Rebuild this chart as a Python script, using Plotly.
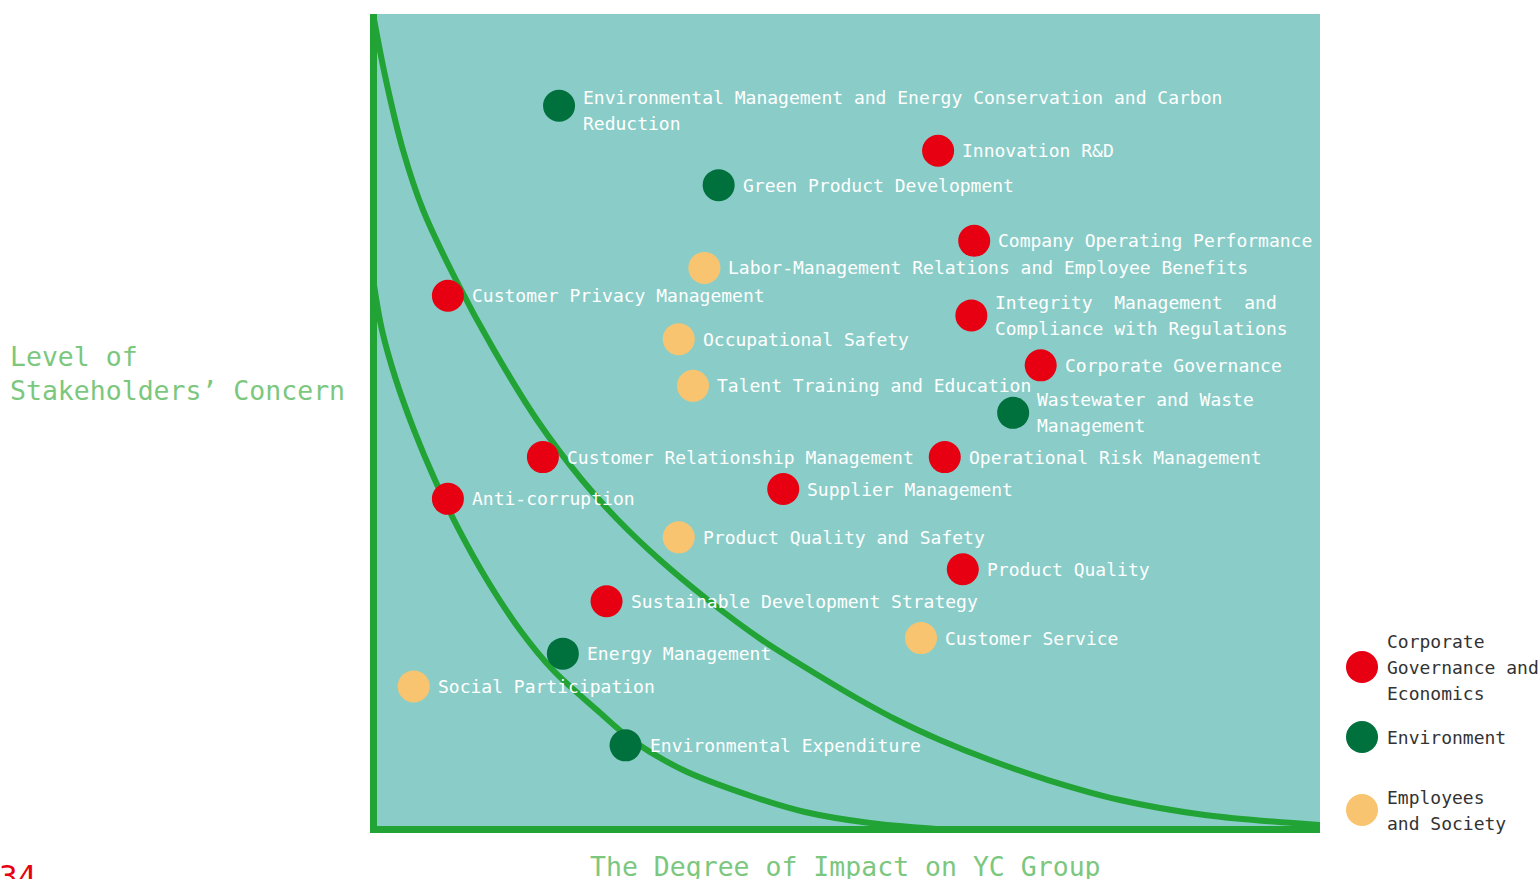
import plotly.graph_objects as go

# ---------------- data ----------------
topics = [
    "Environmental Management and Energy Conservation and Carbon<br>Reduction",
    "Innovation R&D",
    "Green Product Development",
    "Company Operating Performance",
    "Labor-Management Relations and Employee Benefits",
    "Customer Privacy Management",
    "Integrity  Management  and<br>Compliance with Regulations",
    "Occupational Safety",
    "Corporate Governance",
    "Talent Training and Education",
    "Wastewater and Waste<br>Management",
    "Customer Relationship Management",
    "Operational Risk Management",
    "Supplier Management",
    "Anti-corruption",
    "Product Quality and Safety",
    "Product Quality",
    "Sustainable Development Strategy",
    "Customer Service",
    "Energy Management",
    "Social Participation",
    "Environmental Expenditure",
]
impact = [19.9, 59.8, 36.7, 63.6, 35.2, 8.2, 63.3, 32.5, 70.6, 34.0, 67.7,
          18.2, 60.5, 43.5, 8.2, 32.5, 62.4, 24.9, 58.0, 20.3, 4.6, 26.9]
concern = [88.8, 83.3, 79.1, 72.3, 69.0, 65.6, 63.2, 60.3, 57.1, 54.6, 51.3,
           45.9, 45.9, 42.0, 40.8, 36.1, 32.2, 28.3, 23.8, 21.9, 17.9, 10.7]
group = ["env", "gov", "env", "gov", "soc", "gov", "gov", "soc", "gov", "soc", "env",
         "gov", "gov", "gov", "gov", "soc", "gov", "gov", "soc", "env", "soc", "env"]

# boundary curves
outer_x = [0.32, 1.68, 3.47, 5.58, 9.05, 13.05, 17.58, 22.32, 26.11, 30.53, 35.58,
           41.26, 48.00, 51.58, 55.47, 60.00, 65.26, 71.37, 78.95, 87.89, 100.0]
outer_y = [100.0, 91.94, 83.39, 76.07, 67.52, 58.97, 50.43, 43.10, 38.22, 33.33, 28.45,
           23.57, 18.68, 16.24, 13.80, 11.36, 8.91, 6.47, 4.03, 2.20, 0.98]
inner_x = [0.42, 1.26, 2.74, 4.63, 6.84, 9.37, 12.32, 15.79, 19.26, 23.89, 27.58,
           32.95, 39.79, 45.79, 52.63, 61.05]
inner_y = [66.91, 61.42, 55.31, 49.21, 43.10, 37.00, 30.89, 24.79, 19.90, 15.02, 11.36,
           7.69, 4.64, 2.56, 1.22, 0.37]

legend_keys = ["gov", "env", "soc"]
legend_names = ["Corporate<br>Governance and<br>Economics", "Environment", "Employees<br>and Society"]

x_title = "The Degree of Impact on YC Group"
y_title = "Level of<br>Stakeholders’ Concern"
page_no = "34"

# ---------------- style ----------------
W, H = 1540, 879
ML, MR, MT, MB = 0, 0, 14, 46
PX0, PX1 = 370, 1320
plot_h = H - MT - MB
colors = {"gov": "#E60012", "env": "#00703C", "soc": "#F8C470"}
teal = "#8ACDC8"
line_green = "#22A335"
title_green = "#7CC77E"
mono = "DejaVu Sans Mono"
GLYPH = 18      # glyph size of labels
LINE = 20       # font size that drives the line spacing (1.3 * 20 = 26 px)


def py(p):
    return (H - MB - p) / plot_h


def spaced(txt):
    return "<br>".join(f"<span style='font-size:{GLYPH}px'>{s}</span>" for s in txt.split("<br>"))


fig = go.Figure()

# curves
for cx, cy in [(outer_x, outer_y), (inner_x, inner_y)]:
    fig.add_trace(go.Scatter(x=cx, y=cy, mode="lines",
                             line=dict(color=line_green, width=6, shape="spline", smoothing=1.0),
                             hoverinfo="skip", showlegend=False))

# points per group
for key in legend_keys:
    idx = [i for i, g in enumerate(group) if g == key]
    fig.add_trace(go.Scatter(
        x=[impact[i] for i in idx], y=[concern[i] for i in idx], mode="markers",
        marker=dict(size=32, color=colors[key], line=dict(width=0)),
        text=[topics[i] for i in idx], hoverinfo="text", showlegend=False))

annotations = []
for i, t in enumerate(topics):
    multi = "<br>" in t
    annotations.append(dict(
        x=impact[i], y=concern[i], xref="x", yref="y",
        text=spaced(t) if multi else t, showarrow=False,
        xanchor="left", yanchor="middle", align="left", xshift=22,
        yshift=-5 if i == 0 else 0,
        font=dict(family=mono, size=LINE if multi else GLYPH, color="#FFFFFF")))

# manual legend on an auxiliary axis
legend_y = [py(667), py(737), py(810)]
legend_x = [(1362 - 1330) / (W - 1330)] * 3
fig.add_trace(go.Scatter(
    x=legend_x, y=legend_y, xaxis="x2", yaxis="y2", mode="markers",
    marker=dict(size=32, color=[colors[k] for k in legend_keys]),
    hoverinfo="skip", showlegend=False))
for xv, yv, name in zip(legend_x, legend_y, legend_names):
    annotations.append(dict(
        x=xv, y=yv, xref="x2", yref="y2", text=spaced(name), showarrow=False,
        xanchor="left", yanchor="middle", align="left", xshift=23,
        font=dict(family=mono, size=LINE, color="#333333")))

# axis titles and page number
annotations.append(dict(x=8 / W, y=py(373), xref="paper", yref="paper", text=y_title, showarrow=False,
                        xanchor="left", yanchor="middle", align="left",
                        font=dict(family=mono, size=26.5, color=title_green)))
annotations.append(dict(x=845 / W, y=py(866), xref="paper", yref="paper", text=x_title, showarrow=False,
                        xanchor="center", yanchor="middle",
                        font=dict(family=mono, size=26.5, color=title_green)))
annotations.append(dict(x=-3 / W, y=py(856), xref="paper", yref="paper", text=page_no, showarrow=False,
                        xanchor="left", yanchor="top",
                        font=dict(family=mono, size=31, color="#E60012")))

shapes = [
    dict(type="rect", xref="x domain", yref="y domain", x0=0, x1=1, y0=0, y1=1,
         fillcolor=teal, line=dict(width=0), layer="below"),
    dict(type="rect", xref="x domain", yref="y domain", x0=0, x1=7 / (PX1 - PX0), y0=0, y1=1,
         fillcolor=line_green, line=dict(width=0), layer="below"),
    dict(type="rect", xref="x domain", yref="y domain", x0=0, x1=1, y0=0, y1=7 / plot_h,
         fillcolor=line_green, line=dict(width=0), layer="below"),
]

fig.update_layout(
    width=W, height=H, margin=dict(l=ML, r=MR, t=MT, b=MB, pad=0),
    paper_bgcolor="white", plot_bgcolor="rgba(0,0,0,0)",
    xaxis=dict(domain=[PX0 / W, PX1 / W], range=[0, 100], visible=False, fixedrange=True),
    yaxis=dict(domain=[0, 1], range=[0, 100], visible=False, fixedrange=True),
    xaxis2=dict(domain=[1330 / W, 1], range=[0, 1], visible=False, anchor="y2", fixedrange=True),
    yaxis2=dict(domain=[0, 1], range=[0, 1], visible=False, anchor="x2", fixedrange=True),
    annotations=annotations, shapes=shapes, showlegend=False,
)

fig.write_html("out.html")
